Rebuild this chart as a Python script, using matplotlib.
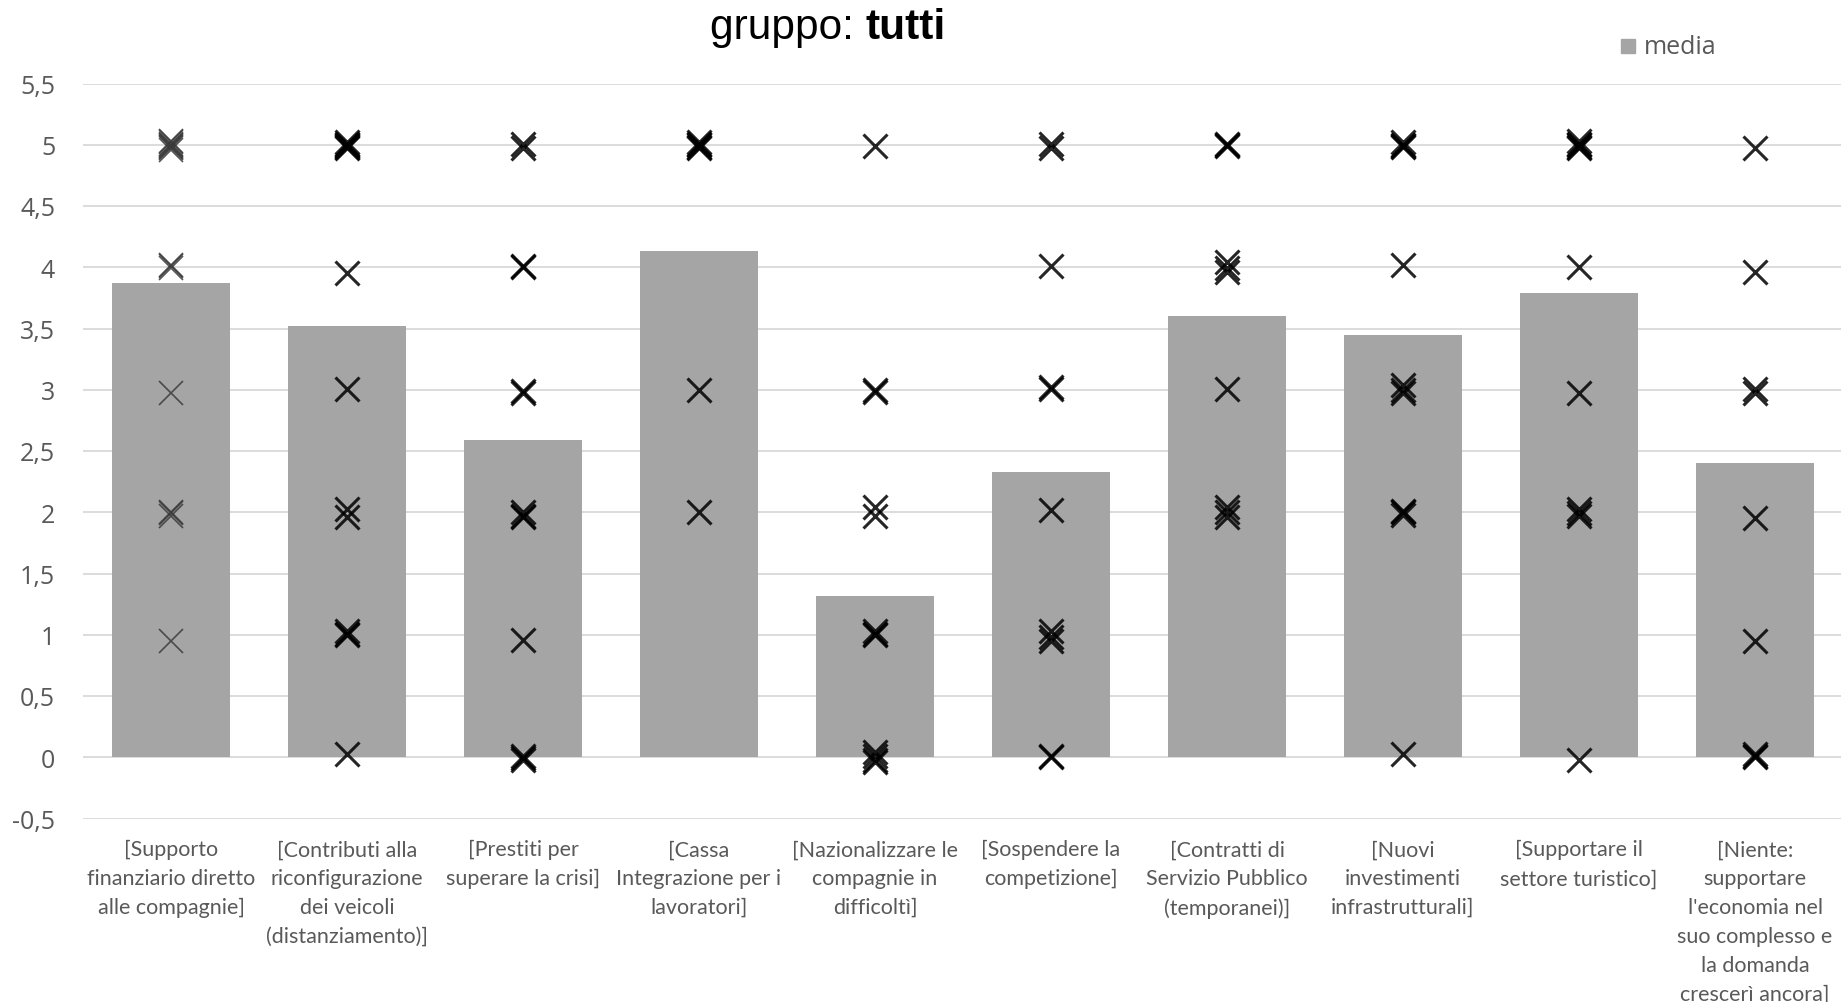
import matplotlib
matplotlib.use("Agg")
import matplotlib.pyplot as plt
from matplotlib.patches import Rectangle

# Categories (answer options)
categories = [
    "[Supporto\nfinanziario diretto\nalle compagnie]",
    "[Contributi alla\nriconfigurazione\ndei veicoli\n(distanziamento)]",
    "[Prestiti per\nsuperare la crisi]",
    "[Cassa\nIntegrazione per i\nlavoratori]",
    "[Nazionalizzare le\ncompagnie in\ndifficoltì]",
    "[Sospendere la\ncompetizione]",
    "[Contratti di\nServizio Pubblico\n(temporanei)]",
    "[Nuovi\ninvestimenti\ninfrastrutturali]",
    "[Supportare il\nsettore turistico]",
    "[Niente:\nsupportare\nl'economia nel\nsuo complesso e\nla domanda\ncrescerì ancora]",
]

# Mean score per category
media = [3.87, 3.52, 2.59, 4.13, 1.32, 2.33, 3.60, 3.45, 3.79, 2.40]

# Individual answers (slightly jittered vertically so overlaps stay visible)
risposte_1 = [5.03, 5.00, 4.98, 4.96, 5.01, 4.97, 5.02, 4.99, 4.01, 3.99, 4.02, 2.97, 2.00, 1.97, 1.99, 0.95]
risposte_2 = [5.02, 5.00, 4.98, 4.97, 5.01, 4.99, 3.95, 3.01, 2.03, 1.96, 1.03, 1.01, 1.00, 0.03]
risposte_3 = [5.01, 4.97, 4.00, 4.01, 2.99, 2.97, 2.00, 1.97, 1.96, 0.96, 0.01, -0.01, -0.02]
risposte_4 = [5.02, 5.00, 4.98, 4.97, 5.01, 3.00, 2.00]
risposte_5 = [4.99, 3.00, 2.98, 2.04, 1.97, 1.03, 1.01, 1.00, 0.04, 0.01, -0.02, -0.04]
risposte_6 = [5.01, 4.97, 4.01, 3.01, 3.02, 2.02, 1.03, 0.98, 0.95, 0.01, 0.00]
risposte_7 = [5.01, 4.99, 5.00, 4.04, 3.99, 3.96, 3.01, 2.04, 2.00, 1.96]
risposte_8 = [5.02, 5.00, 4.98, 4.99, 4.02, 3.04, 3.00, 2.97, 2.00, 1.98, 2.01, 0.03]
risposte_9 = [5.03, 5.00, 4.97, 5.01, 4.98, 4.00, 2.97, 2.03, 1.99, 1.97, -0.02]
risposte_10 = [4.97, 3.96, 3.01, 2.97, 1.95, 0.95, 0.03, 0.01, 0.00]

risposte = [risposte_1, risposte_2, risposte_3, risposte_4, risposte_5,
            risposte_6, risposte_7, risposte_8, risposte_9, risposte_10]

yticks = [-0.5, 0, 0.5, 1, 1.5, 2, 2.5, 3, 3.5, 4, 4.5, 5, 5.5]
ytick_labels = ["-0,5", "0", "0,5", "1", "1,5", "2", "2,5", "3", "3,5", "4", "4,5", "5", "5,5"]

W, H = 1841, 1003
fig = plt.figure(figsize=(W / 100, H / 100), dpi=100)
ax = fig.add_axes([83 / W, 1 - 819.5 / H, 1760 / W, (819.5 - 84.5) / H])

text_grey = "#595959"
x = list(range(len(categories)))

ax.set_xlim(-0.5, len(categories) - 0.5)
ax.set_ylim(-0.5, 5.5)
ax.set_yticks(yticks)
ax.set_yticklabels(ytick_labels, fontsize=18, color=text_grey, family="Open Sans")
ax.tick_params(axis="y", length=0, pad=20)
ax.tick_params(axis="x", length=0, pad=15)
ax.set_xticks(x)
ax.set_xticklabels(categories, fontsize=15.5, color=text_grey, family="Lato",
                   linespacing=1.55, va="top")
for s in ax.spines.values():
    s.set_visible(False)
ax.grid(axis="y", color="#d9d9d9", linewidth=1.3, zorder=0)
ax.set_axisbelow(True)

ax.bar(x, media, width=0.665, color="#a5a5a5", zorder=2)

for i, vals in enumerate(risposte):
    if i == 0:
        col, lw = "#3a3a3a", 1.2
    else:
        col, lw = "black", 2.2
    ax.plot([i] * len(vals), vals, linestyle="none", marker="x",
            markersize=17, markeredgewidth=lw, color=col, alpha=0.85, zorder=3)

# Title
fig.text(866 / W, 1 - 28 / H, "gruppo: ", fontsize=30.5, family="Liberation Sans",
         ha="right", va="center")
fig.text(866 / W, 1 - 28 / H, "tutti", fontsize=30.5, family="Liberation Sans",
         fontweight="bold", ha="left", va="center")

# Legend
fig.patches.append(Rectangle((1621 / W, 1 - 54 / H), 14 / W, 14 / H,
                             transform=fig.transFigure, color="#a5a5a5"))
fig.text(1644 / W, 1 - 47 / H, "media", fontsize=18, color=text_grey,
         family="Open Sans", ha="left", va="center")

fig.savefig("out.png", dpi=100)
